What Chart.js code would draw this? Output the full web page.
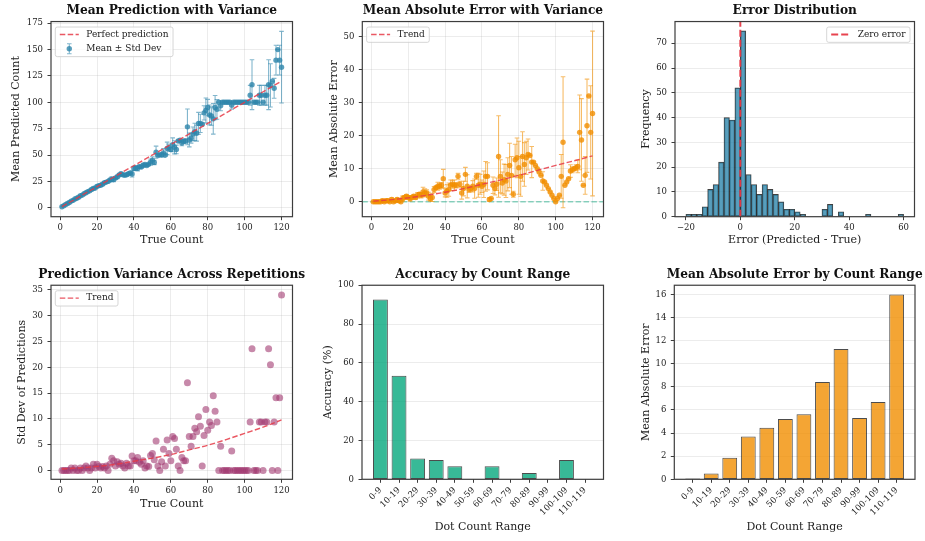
<!DOCTYPE html>
<html><head><meta charset="utf-8">
<script src="https://cdn.jsdelivr.net/npm/chart.js@4.4.1/dist/chart.umd.min.js"></script>
<style>
html,body{margin:0;padding:0;background:#fff;overflow:hidden}
#fig{position:relative;width:925px;height:541px;overflow:hidden;background:#fff}
#fig canvas{position:absolute}
</style></head><body><div id="fig"></div>
<script>
// ---------------- DATA ----------------
const trueCounts = [1,2,3,4,5,6,7,8,9,10,11,12,13,14,15,16,17,18,19,20,21,22,23,24,25,26,27,28,29,30,31,32,33,34,35,36,37,38,39,40,41,42,43,44,45,46,47,48,49,50,51,52,53,54,55,56,57,58,59,60,61,62,63,64,65,66,67,68,69,70,71,72,73,74,75,76,77,78,79,80,81,82,83,84,85,86,87,88,89,90,91,92,93,94,95,96,97,98,99,100,101,102,103,104,105,106,107,108,109,110,111,112,113,114,115,116,117,118,119,120];
const meanPred = [1,2,3,4,5,6.3,7,8.3,9,10,
 11.3,12,13.3,14.3,15.3,16,17.3,18.3,18.7,20.3,
 21,21.3,22.3,23.7,24.3,25,26.3,27,26.7,28.3,
 29.3,31,32.3,31.3,30.7,31.3,32.3,33,32,37.3,
 37.7,37.3,39,38.7,40.3,41,40,41.3,43.3,45,
 43,52.7,49.7,50,50.3,52,50,56.3,57,55.3,
 59.7,57.3,55.3,63.3,64,61.3,63,63.3,76.7,64.3,
 66,70,72,70.7,80,80,79.3,90,92.3,95,
 88,87,84.3,95,93.3,100,96.7,100,100,100,
 100,100,97.3,100,100,100,100,100,100,100,
 100,100,106.7,116.7,100,100,100,106.7,106.7,100,
 106.7,106.7,116.7,116,120,113.3,140,150,140,133.3];
const stdPred = [0,0,0,0,0,0.5,0,0.5,0,0,
 0.5,0,0.5,0.9,0.5,0,0.5,1.2,0.5,1.2,
 0.8,0.5,0.8,0.5,0.9,0,1.2,2.4,1.9,0.9,
 1.7,1.2,1.4,0.9,0.5,1.4,0.9,0.9,2.8,1.9,
 1.9,2.5,1.6,1.2,1.9,0.5,0.9,0.8,2.9,3.3,
 2.1,5.7,0.9,0,1.7,4.1,0.9,5.9,3.3,1.9,
 6.6,6.2,4.1,0.9,0,2.5,1.9,1.9,17.0,6.6,
 4.7,6.6,8.2,7.5,10.4,8.6,0.9,6.8,11.8,7.8,
 9.4,8.7,14.5,11.5,9.4,0,4.7,0,0,0,
 0,0,3.8,0,0,0,0,0,0,0,
 0,0,9.4,23.6,0,0,0,9.4,9.4,0,
 9.4,9.4,23.6,20.5,0,9.4,14.1,0,14.1,34.0];
const maeVals = [0,0,0,0,0,0.3,0,0.3,0.3,0,
 0.7,0,0.3,0.7,0.3,0,1.0,1.3,1.7,1.3,
 1.0,1.3,1.7,1.3,2.0,2.3,2.0,3.0,2.7,2.7,
 1.7,1.0,1.3,3.7,4.3,4.7,4.7,5.0,7.0,2.7,
 3.3,3.7,5.0,5.3,5.0,5.0,7.7,5.3,2.7,4.0,
 8.3,4.7,3.7,4.0,4.7,4.0,7.7,5.0,5.3,4.7,
 5.3,7.7,7.7,0.7,1.0,5.0,4.0,5.3,13.7,7.7,
 5.7,6.7,6.3,8.3,11.0,8.0,2.3,12.7,13.3,10.3,
 7.7,13.7,11.3,13.3,14.3,14.0,12.0,12.0,11.0,10.0,
 9.0,8.0,6.3,6.0,5.0,4.0,3.0,2.0,1.0,0,
 1.0,2.0,7.7,18.0,5.0,6.0,7.0,9.3,9.7,10.0,
 10.3,10.7,21.0,18.7,5.0,8.0,23.0,32.0,21.0,26.7];
const maeStd = [0,0,0,0,0,0.5,0,0.5,0.5,0,
 0.5,0,0.5,0.5,0.5,0,0.8,0.5,0.5,0.5,
 0.8,0.5,0.5,0.5,0.8,0.5,0.8,1.4,1.2,0.9,
 1.2,0.8,1.2,0.9,0.5,1.2,0.9,0.8,2.8,1.2,
 1.9,2.0,1.6,1.2,1.6,0.8,0.9,0.9,1.9,2.2,
 2.1,3.5,0.9,0.8,1.7,2.9,0.9,3.6,3.0,1.9,
 4.0,4.5,4.1,0.5,0,2.5,1.9,1.9,12.3,5.0,
 3.3,4.7,5.0,5.0,6.7,5.7,0.9,4.7,6.0,8.0,
 6.0,7.5,6.6,5.0,4.7,0,4.7,0,0,0,
 0,0,2.8,0,0,0,0,0,0,0,
 0,0,6.6,19.8,0,0,0,1.9,0.9,0,
 0.9,1.9,11.3,12.5,0,5.7,14.1,0,14.1,24.9];
const perfectX = [1, 120];
const perfectY = [1, 120];
const maeTrendX = [1,10,20,30,40,50,60,70,80,90,100,110,120];
const maeTrendY = [0.2,0.6,1.2,2.0,2.9,4.0,5.3,6.6,8.0,9.5,11.0,12.4,13.9];
const stdTrendX = [1,10,20,30,40,50,60,70,80,90,100,110,120];
const stdTrendY = [0.3,0.5,0.8,1.2,1.8,2.4,3.1,4.0,4.9,6.0,7.2,8.4,9.8];
const errBinCenters = [-19,-17,-15,-13,-11,-9,-7,-5,-3,-1,1,3,5,7,9,11,13,15,17,19,21,23,25,27,29,31,33,35,37,39,41,43,45,47,49,51,53,55,57,59];
const errCounts = [1,1,1,4,11,13,22,40,39,52,75,17,13,9,13,11,9,6,3,3,2,1,0,0,0,3,5,0,2,0,0,0,0,1,0,0,0,0,0,1];
const zeroErrorLineY = [0, 78.75];
const rangeLabels = ['0-9','10-19','20-29','30-39','40-49','50-59','60-69','70-79','80-89','90-99','100-109','110-119'];
const accuracyPct = [92.6,53.3,10.7,10.0,6.7,0,6.7,0,3.3,0,10.0,0];
const rangeMAE = [0.07,0.5,1.87,3.7,4.47,5.23,5.63,8.43,11.27,5.3,6.7,16.0];
const countTicks = [0,20,40,60,80,100,120];
const predTicks = [0,25,50,75,100,125,150,175];
const maeTicks = [0,10,20,30,40,50];
const errTicks = [-20,0,20,40,60];
const freqTicks = [0,10,20,30,40,50,60,70];
const stdTicks = [0,5,10,15,20,25,30,35];
const accTicks = [0,20,40,60,80,100];
const rangeMaeTicks = [0,2,4,6,8,10,12,14,16];

// ---------------- STYLE / HELPERS ----------------
Chart.defaults.font.family = "'DejaVu Serif', serif";
Chart.defaults.color = '#222';
Chart.defaults.animation = false;
const SPINE = '#3d3d3d';
const GRIDC = 'rgba(176,176,176,0.3)';
const TICKF = {size: 8.5};
const AXISF = {size: 11};
const RED = 'rgba(230,57,70,0.85)';
const fig = document.getElementById('fig');
const fmtNum = v => v < 0 ? '\u2212' + Math.abs(v) : String(v);

const framePlugin = {
  id: 'frame',
  afterDatasetsDraw(chart) {
    const a = chart.chartArea, ctx = chart.ctx;
    ctx.save(); ctx.strokeStyle = SPINE; ctx.lineWidth = 1.2;
    ctx.strokeRect(a.left, a.top, a.right - a.left, a.bottom - a.top);
    ctx.restore();
  }
};
const errPlugin = {
  id: 'errbars',
  beforeDatasetsDraw(chart) {
    const ctx = chart.ctx, a = chart.chartArea;
    const xs = chart.scales.x, ys = chart.scales.y;
    ctx.save();
    ctx.beginPath(); ctx.rect(a.left, a.top, a.right - a.left, a.bottom - a.top); ctx.clip();
    chart.data.datasets.forEach(ds => {
      if (!ds.errorBars) return;
      ctx.strokeStyle = ds.errorColor; ctx.lineWidth = 1.1;
      ds.data.forEach((p, i) => {
        const e = ds.errorBars[i];
        const x = xs.getPixelForValue(p.x);
        const y1 = ys.getPixelForValue(p.y - e), y2 = ys.getPixelForValue(p.y + e);
        ctx.beginPath();
        ctx.moveTo(x, y1); ctx.lineTo(x, y2);
        ctx.moveTo(x - 2.3, y1); ctx.lineTo(x + 2.3, y1);
        ctx.moveTo(x - 2.3, y2); ctx.lineTo(x + 2.3, y2);
        ctx.stroke();
      });
    });
    ctx.restore();
  }
};
const refPlugin = {
  id: 'refline',
  beforeDatasetsDraw(chart) {
    const r = chart.config.options.refLine;
    if (!r) return;
    const ctx = chart.ctx, a = chart.chartArea;
    const y = chart.scales.y.getPixelForValue(r.value);
    ctx.save(); ctx.strokeStyle = r.color; ctx.lineWidth = r.width; ctx.setLineDash(r.dash);
    ctx.beginPath(); ctx.moveTo(a.left, y); ctx.lineTo(a.right, y); ctx.stroke();
    ctx.restore();
  }
};
const legendPlugin = {
  id: 'inLegend',
  afterDatasetsDraw(chart) {
    const spec = chart.config.options.inLegend;
    if (!spec) return;
    const ctx = chart.ctx, a = chart.chartArea;
    const dss = spec.order.map(i => chart.data.datasets[i]);
    ctx.save();
    ctx.font = "9px 'DejaVu Serif'";
    let tw = 0; dss.forEach(d => { tw = Math.max(tw, ctx.measureText(d.label).width); });
    const w = 31 + tw + 4.5, h = 15.3 + (dss.length - 1) * 14.3;
    const x0 = spec.right ? a.right - 4.5 - w : a.left + 4.3;
    const y0 = a.top + 5.5;
    ctx.beginPath();
    if (ctx.roundRect) ctx.roundRect(x0, y0, w, h, 2); else ctx.rect(x0, y0, w, h);
    ctx.fillStyle = 'rgba(255,255,255,0.8)'; ctx.fill();
    ctx.strokeStyle = '#cccccc'; ctx.lineWidth = 0.8; ctx.stroke();
    dss.forEach((d, i) => {
      const cy = y0 + 7.4 + i * 14.3;
      const hx0 = x0 + 4.5, hx1 = x0 + 23.5;
      if (d.errorBars) {
        const mx = (hx0 + hx1) / 2;
        ctx.strokeStyle = d.errorColor; ctx.lineWidth = 1.1;
        ctx.beginPath();
        ctx.moveTo(mx, cy - 5); ctx.lineTo(mx, cy + 5);
        ctx.moveTo(mx - 2.3, cy - 5); ctx.lineTo(mx + 2.3, cy - 5);
        ctx.moveTo(mx - 2.3, cy + 5); ctx.lineTo(mx + 2.3, cy + 5);
        ctx.stroke();
        ctx.beginPath(); ctx.arc(mx, cy, d.pointRadius, 0, Math.PI * 2);
        ctx.fillStyle = d.pointBackgroundColor; ctx.fill();
      } else {
        ctx.beginPath(); ctx.setLineDash(d.borderDash || []);
        ctx.strokeStyle = d.borderColor; ctx.lineWidth = d.borderWidth;
        ctx.moveTo(hx0, cy); ctx.lineTo(hx1, cy); ctx.stroke(); ctx.setLineDash([]);
      }
      ctx.fillStyle = '#222'; ctx.textBaseline = 'middle'; ctx.textAlign = 'left';
      ctx.fillText(d.label, x0 + 31, cy);
    });
    ctx.restore();
  }
};

function build(g, type, datasets, extra) {
  const Cx = (g.L + g.R) / 2;
  const cl = Math.floor(g.yTitleX - 12);
  const cw = Math.ceil(2 * (Cx - cl));
  const padR = cw - 2 * (Cx - cl);
  const Yw = g.L - cl;
  const rightGap = (cw - padR) - (g.R - cl);
  const Xh = g.rowTop + g.rowH - g.B;
  const tlh = 12 * 1.2, alh = 11 * 1.2;
  const pt = g.titleY - g.rowTop - tlh / 2;
  const pb = (g.T - g.rowTop) - pt - tlh;
  const yPad = g.yTitleX - cl - alh / 2;
  const xPad = g.rowTop + g.rowH - g.xTitleY - alh / 2;
  const cv = document.createElement('canvas');
  cv.width = cw; cv.height = g.rowH;
  cv.style.left = cl + 'px'; cv.style.top = g.rowTop + 'px';
  cv.style.width = cw + 'px'; cv.style.height = g.rowH + 'px';
  fig.appendChild(cv);
  const options = Object.assign({
    responsive: false, devicePixelRatio: 1, animation: false, events: [],
    layout: {padding: {left: 0, right: padR, top: 0, bottom: 0}},
    plugins: {
      legend: {display: false}, tooltip: {enabled: false},
      title: {display: true, text: g.title, fullSize: true, color: '#111',
        font: {size: 12.2, weight: 'bold'}, padding: {top: pt, bottom: pb}}
    },
    scales: {
      x: {
        type: 'linear', min: g.xMin, max: g.xMax, offset: false,
        afterBuildTicks: s => { s.ticks = g.xTicks.map(v => ({value: v})); },
        afterFit: s => { s.height = Xh; },
        ticks: {font: TICKF, color: '#222', padding: 2.5, autoSkip: false,
          maxRotation: g.xRot || 0, minRotation: g.xRot || 0,
          callback: (v, i) => g.xLabels ? g.xLabels[i] : fmtNum(v)},
        grid: {display: true, drawOnChartArea: !!g.xGrid, color: GRIDC, lineWidth: 0.8,
          drawTicks: true, tickLength: 3.5, tickColor: SPINE, tickWidth: 1, offset: false},
        border: {display: false},
        title: {display: true, text: g.xTitle, font: AXISF, color: '#222', padding: {top: xPad, bottom: xPad}}
      },
      y: {
        type: 'linear', position: 'left', min: g.yMin, max: g.yMax,
        afterBuildTicks: s => { s.ticks = g.yTicks.map(v => ({value: v})); },
        afterFit: s => { s.width = Yw; },
        ticks: {font: TICKF, color: '#222', padding: 4.5, autoSkip: false, callback: v => fmtNum(v)},
        grid: {display: true, drawOnChartArea: true, color: GRIDC, lineWidth: 0.8,
          drawTicks: true, tickLength: 3.5, tickColor: SPINE, tickWidth: 1},
        border: {display: false},
        title: {display: true, text: g.yTitle, font: AXISF, color: '#222', padding: {top: yPad, bottom: yPad}}
      },
      yR: {
        type: 'linear', position: 'right', display: true,
        grid: {display: false}, ticks: {display: false}, border: {display: false},
        title: {display: false}, afterFit: s => { s.width = rightGap; }
      }
    }
  }, extra || {});
  return new Chart(cv, {type, data: {datasets}, options,
    plugins: [refPlugin, errPlugin, framePlugin, legendPlugin]});
}

const pts = (xs, ys) => xs.map((x, i) => ({x, y: ys[i]}));

// ---------------- 1. Mean prediction ----------------
build({L: 51, R: 292.5, T: 21.3, B: 216.7, rowTop: 0, rowH: 258, yTitleX: 16, xTitleY: 240.3, titleY: 11,
  title: 'Mean Prediction with Variance', xTitle: 'True Count', yTitle: 'Mean Predicted Count',
  xMin: -4.95, xMax: 125.95, yMin: -8.5, yMax: 176.6, xTicks: countTicks, yTicks: predTicks, xGrid: true},
  'scatter', [
    {label: 'Perfect prediction', data: pts(perfectX, perfectY), showLine: true, borderColor: RED,
     borderWidth: 1.4, borderDash: [5.5, 2.4], pointRadius: 0, order: 0, xAxisID: 'x', yAxisID: 'y'},
    {label: 'Mean \u00b1 Std Dev', data: pts(trueCounts, meanPred), errorBars: stdPred,
     errorColor: 'rgba(46,134,171,0.6)', pointRadius: 2.7, pointBackgroundColor: 'rgba(46,134,171,0.8)',
     pointBorderWidth: 0, showLine: false, order: 1, xAxisID: 'x', yAxisID: 'y'}
  ], {inLegend: {order: [0, 1], right: false}});

// ---------------- 2. MAE with variance ----------------
build({L: 362.3, R: 603.5, T: 21.3, B: 216.7, rowTop: 0, rowH: 258, yTitleX: 333.8, xTitleY: 240.3, titleY: 11,
  title: 'Mean Absolute Error with Variance', xTitle: 'True Count', yTitle: 'Mean Absolute Error',
  xMin: -4.95, xMax: 125.95, yMin: -4.5, yMax: 54.5, xTicks: countTicks, yTicks: maeTicks, xGrid: true},
  'scatter', [
    {label: 'Trend', data: pts(maeTrendX, maeTrendY), showLine: true, borderColor: RED, borderWidth: 1.4,
     borderDash: [5.5, 2.4], pointRadius: 0, cubicInterpolationMode: 'monotone', order: 0, xAxisID: 'x', yAxisID: 'y'},
    {label: 'MAE', data: pts(trueCounts, maeVals), errorBars: maeStd, errorColor: 'rgba(241,143,1,0.6)',
     pointRadius: 2.7, pointBackgroundColor: 'rgba(241,143,1,0.8)', pointBorderWidth: 0, showLine: false,
     order: 1, xAxisID: 'x', yAxisID: 'y'}
  ], {inLegend: {order: [0], right: false},
      refLine: {value: 0, color: 'rgba(6,167,125,0.45)', width: 1.4, dash: [5.5, 2.4]}});

// ---------------- 3. Error distribution ----------------
build({L: 675, R: 914.5, T: 21.3, B: 216.7, rowTop: 0, rowH: 258, yTitleX: 646.5, xTitleY: 240.3, titleY: 11,
  title: 'Error Distribution', xTitle: 'Error (Predicted - True)', yTitle: 'Frequency',
  xMin: -24, xMax: 64, yMin: 0, yMax: 78.75, xTicks: errTicks, yTicks: freqTicks, xGrid: false},
  'bar', [
    {type: 'line', label: 'Zero error', data: [{x: 0, y: zeroErrorLineY[0]}, {x: 0, y: zeroErrorLineY[1]}],
     borderColor: 'rgba(230,57,70,0.95)', borderWidth: 2, borderDash: [7, 3], pointRadius: 0, order: 0,
     xAxisID: 'x', yAxisID: 'y'},
    {type: 'bar', label: 'Errors', data: pts(errBinCenters, errCounts), backgroundColor: 'rgba(46,134,171,0.8)',
     borderColor: 'rgba(0,0,0,0.75)', borderWidth: 0.9, borderSkipped: false, barPercentage: 1,
     categoryPercentage: 1, order: 1, xAxisID: 'x', yAxisID: 'y'}
  ], {inLegend: {order: [0], right: true}});

// ---------------- 4. Prediction variance ----------------
build({L: 51, R: 292.5, T: 285, B: 479.3, rowTop: 258, rowH: 283, yTitleX: 22, xTitleY: 504.5, titleY: 274.7,
  title: 'Prediction Variance Across Repetitions', xTitle: 'True Count', yTitle: 'Std Dev of Predictions',
  xMin: -4.95, xMax: 125.95, yMin: -1.7, yMax: 35.9, xTicks: countTicks, yTicks: stdTicks, xGrid: true},
  'scatter', [
    {label: 'Trend', data: pts(stdTrendX, stdTrendY), showLine: true, borderColor: RED, borderWidth: 1.4,
     borderDash: [5.5, 2.4], pointRadius: 0, cubicInterpolationMode: 'monotone', order: 0, xAxisID: 'x', yAxisID: 'y'},
    {label: 'Std Dev', data: pts(trueCounts, stdPred), pointRadius: 3.5,
     pointBackgroundColor: 'rgba(162,59,114,0.6)', pointBorderWidth: 0, showLine: false, order: 1,
     xAxisID: 'x', yAxisID: 'y'}
  ], {inLegend: {order: [0], right: false}});

// ---------------- 5. Accuracy by range ----------------
const rangeIdx = rangeLabels.map((l, i) => i);
build({L: 362, R: 603.5, T: 285, B: 479.3, rowTop: 258, rowH: 283, yTitleX: 328.3, xTitleY: 527.5, titleY: 274.7,
  title: 'Accuracy by Count Range', xTitle: 'Dot Count Range', yTitle: 'Accuracy (%)',
  xMin: -0.99, xMax: 11.99, yMin: 0, yMax: 100, xTicks: rangeIdx, yTicks: accTicks, xGrid: false,
  xLabels: rangeLabels, xRot: 45},
  'bar', [
    {label: 'Accuracy', data: pts(rangeIdx, accuracyPct), backgroundColor: 'rgba(6,167,125,0.8)',
     borderColor: 'rgba(0,0,0,0.7)', borderWidth: 1, borderSkipped: false, barPercentage: 0.8,
     categoryPercentage: 1, xAxisID: 'x', yAxisID: 'y'}
  ]);

// ---------------- 6. MAE by range ----------------
build({L: 674.3, R: 915, T: 285, B: 479.3, rowTop: 258, rowH: 283, yTitleX: 646.2, xTitleY: 527.5, titleY: 274.7,
  title: 'Mean Absolute Error by Count Range', xTitle: 'Dot Count Range', yTitle: 'Mean Absolute Error',
  xMin: -0.99, xMax: 11.99, yMin: 0, yMax: 16.8, xTicks: rangeIdx, yTicks: rangeMaeTicks, xGrid: false,
  xLabels: rangeLabels, xRot: 45},
  'bar', [
    {label: 'MAE', data: pts(rangeIdx, rangeMAE), backgroundColor: 'rgba(241,143,1,0.8)',
     borderColor: 'rgba(0,0,0,0.7)', borderWidth: 1, borderSkipped: false, barPercentage: 0.8,
     categoryPercentage: 1, xAxisID: 'x', yAxisID: 'y'}
  ]);
</script></body></html>
